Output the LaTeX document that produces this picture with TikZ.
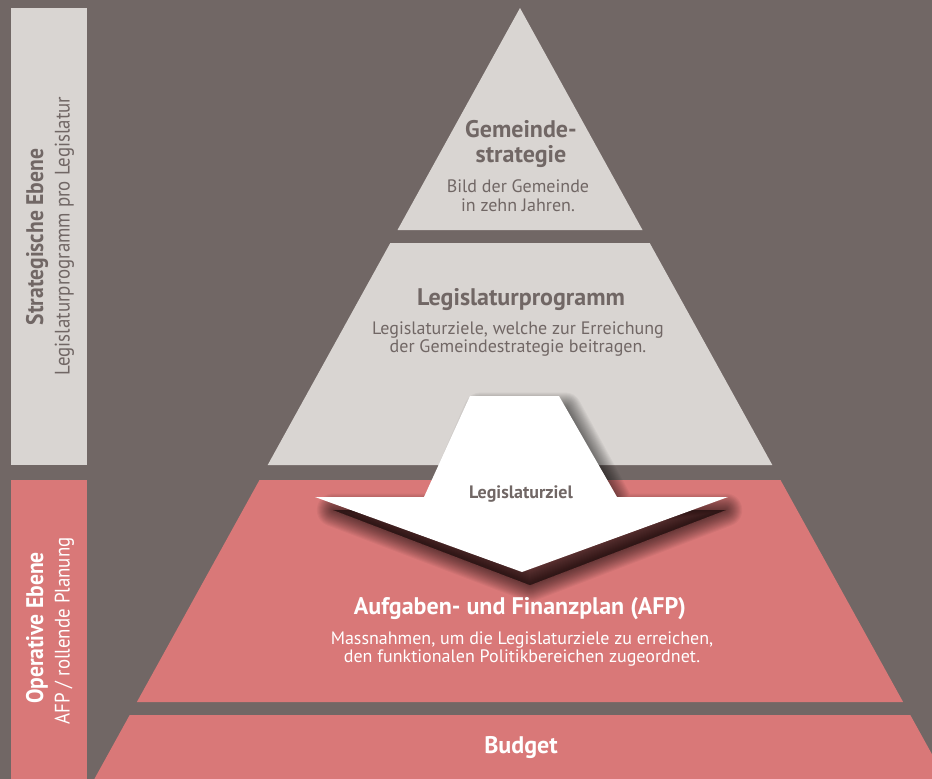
\documentclass[tikz,border=0pt]{standalone}
\usepackage{fontspec}
\setmainfont{PT Sans}
\newfontfamily\narrowfont[FakeStretch=0.9]{PT Sans}
\definecolor{bgcol}{HTML}{716765}
\definecolor{lightcol}{HTML}{D9D5D2}
\definecolor{redcol}{HTML}{D97878}
\begin{document}
\begin{tikzpicture}[x=1pt,y=-1pt,
  lightband/.style={fill=lightcol},
  redband/.style={fill=redcol},
  % multi-line labels are anchored at the baseline of their last line
  headtext/.style={align=center,inner sep=0pt,anchor=base,font=\bfseries\fontsize{24}{25}\selectfont},
  bodytext/.style={align=center,inner sep=0pt,anchor=base,font=\fontsize{18}{18.5}\selectfont},
  sidehead/.style={rotate=90,inner sep=0pt,anchor=base,font=\narrowfont\bfseries\fontsize{24}{26}\selectfont},
  sidesub/.style={rotate=90,inner sep=0pt,anchor=base,font=\narrowfont\fontsize{21}{23}\selectfont},
  arrowoutline/.style={insert path={(470,396) -- (559,396) -- (617,497) -- (728,497)
      -- (522,572) -- (315,497) -- (424,497) -- cycle}}]
\useasboundingbox (0,0) rectangle (932,779);
\fill[bgcol] (0,0) rectangle (932,779);
\begin{scope}
  \clip (0,0) rectangle (932,779);
  % side bars
  \fill[lightband] (11,8) rectangle (87,465);
  \fill[redband] (11,480) rectangle (87,790);
  % pyramid levels
  \fill[lightband] (520,8) -- (642.5,230) -- (397.5,230) -- cycle;
  \fill[lightband] (390.3,243) -- (649.7,243) -- (772.3,465) -- (267.7,465) -- cycle;
  \fill[redband] (259.5,480) -- (780.5,480) -- (903.1,702) -- (136.9,702) -- cycle;
  \fill[redband] (129.7,715) -- (910.3,715) -- (951.7,790) -- (88.3,790) -- cycle;
  % soft drop shadow of the arrow, built from stacked translucent outlines
  \begin{scope}[shift={(8,13)},shift={(522,0)},xscale=0.95,shift={(-522,0)}]
    \foreach \w in {1,3,...,33}
      \filldraw[black,opacity=0.04,line width=\w pt,line join=round][arrowoutline];
  \end{scope}
  % arrow from strategic to operative level
  \fill[white][arrowoutline];
\end{scope}

% side bar labels
\node[sidehead,text=bgcol] (strat) at (43,237) {Strategische Ebene};
\node[sidesub,text=bgcol] (stratsub) at (69.5,236) {Legislaturprogramm pro Legislatur};
\node[sidehead,text=white] (oper) at (43,628) {Operative Ebene};
\node[sidesub,text=white] (opersub) at (69.5,631) {AFP / rollende Planung};

% pyramid labels
\node[headtext,text=bgcol] (gs) at (521,162.7) {Gemeinde-\\strategie};
\node[bodytext,text=bgcol] (gsb) at (518,211) {Bild der Gemeinde\\in zehn Jahren.};
\node[headtext,text=bgcol] (lp) at (521,305) {Legislaturprogramm};
\node[bodytext,text=bgcol] (lpb) at (518,352.7) {Legislaturziele, welche zur Erreichung\\der Gemeindestrategie beitragen.};
\node[inner sep=0pt,anchor=base,font=\bfseries\fontsize{18}{20}\selectfont,text=bgcol] (lz) at (521,498) {Legislaturziel};
\node[headtext,text=white] (afp) at (520,614) {Aufgaben- und Finanzplan (AFP)};
\node[bodytext,text=white] (afpb) at (522,662.7) {Massnahmen, um die Legislaturziele zu erreichen,\\den funktionalen Politikbereichen zugeordnet.};
\node[headtext,text=white] (bud) at (521,753) {Budget};
\end{tikzpicture}
\end{document}
